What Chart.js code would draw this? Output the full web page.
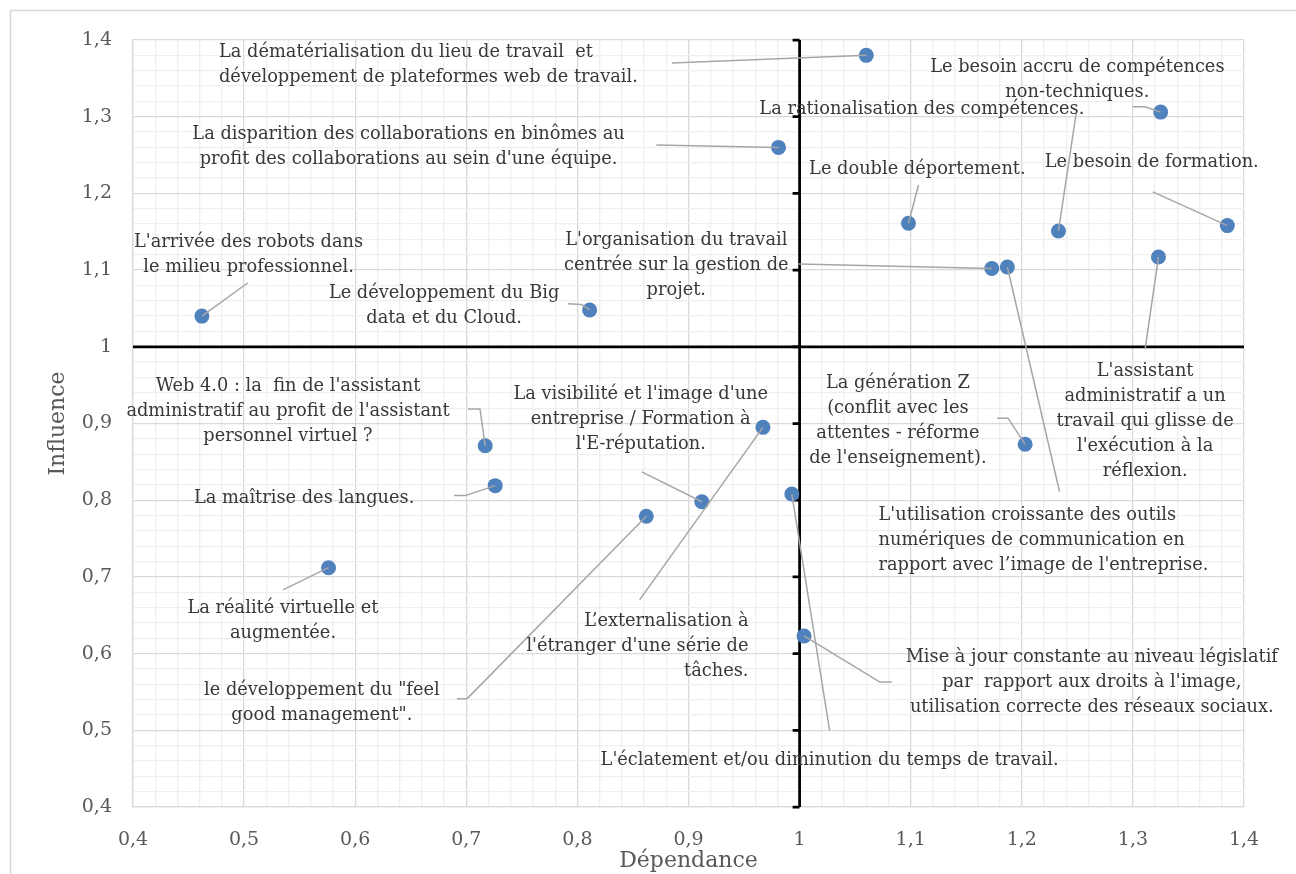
<!DOCTYPE html>
<html><head><meta charset="utf-8">
<script src="https://cdn.jsdelivr.net/npm/chart.js@4.4.1/dist/chart.umd.min.js"></script>
<style>html,body{margin:0;padding:0;background:#fff;overflow:hidden}canvas{display:block}</style>
</head><body>
<canvas id="c" width="1296" height="874"></canvas>
<script>
// ---- data ----
const itemTexts = [
  ["La dématérialisation du lieu de travail  et", "développement de plateformes web de travail."],
  ["La disparition des collaborations en binômes au", "profit des collaborations au sein d'une équipe."],
  ["Le besoin accru de compétences", "non-techniques."],
  ["La rationalisation des compétences."],
  ["Le double déportement."],
  ["Le besoin de formation."],
  ["L'organisation du travail", "centrée sur la gestion de", "projet."],
  ["L'utilisation croissante des outils", "numériques de communication en", "rapport avec l\u2019image de l'entreprise."],
  ["L'assistant", "administratif a un", "travail qui glisse de", "l'exécution à la", "réflexion."],
  ["L'arrivée des robots dans", "le milieu professionnel."],
  ["Le développement du Big", "data et du Cloud."],
  ["Web 4.0 : la  fin de l'assistant", "administratif au profit de l'assistant", "personnel virtuel ?"],
  ["La maîtrise des langues."],
  ["La visibilité et l'image d'une", "entreprise / Formation à", "l'E-réputation."],
  ["L\u2019externalisation à", "l'étranger d'une série de", "tâches."],
  ["le développement du \"feel", "good management\"."],
  ["L'éclatement et/ou diminution du temps de travail."],
  ["Mise à jour constante au niveau législatif", "par  rapport aux droits à l'image,", "utilisation correcte des réseaux sociaux."],
  ["La génération Z", "(conflit avec les", "attentes - réforme", "de l'enseignement)."],
  ["La réalité virtuelle et", "augmentée."]
];
const dependance = [1.060, 0.981, 1.325, 1.233, 1.098, 1.385, 1.173, 1.187, 1.323, 0.462,
                    0.811, 0.717, 0.726, 0.912, 0.967, 0.862, 0.993, 1.004, 1.203, 0.576];
const influence  = [1.380, 1.260, 1.306, 1.151, 1.161, 1.158, 1.102, 1.104, 1.117, 1.040,
                    1.048, 0.871, 0.819, 0.798, 0.895, 0.779, 0.808, 0.623, 0.873, 0.712];
const axisMin = 0.4, axisMax = 1.4, majorStep = 0.1, minorStep = 0.02, crossAt = 1;
const xTitle = "Dépendance", yTitle = "Influence";

// ---- label placement (in data units), kept apart from the data ----
const labelX = [0.4774, 0.648, 1.250, 1.110, 1.106, 1.317, 0.889, 1.071, 1.311, 0.504,
                0.680, 0.5395, 0.554, 0.857, 0.954, 0.570, 1.027, 1.263, 1.0885, 0.535];
const labelY = [1.368, 1.260, 1.348, 1.309, 1.231, 1.240, 1.106, 0.748, 0.903, 1.120,
                1.0535, 0.916, 0.803, 0.905, 0.609, 0.536, 0.461, 0.562, 0.904, 0.643];
const labelAlign = ['left','center','center','center','center','center','center','left','center','center',
                    'center','center','center','center','right','center','center','center','center','center'];
const leaderPath = [
  [[0.885,1.370]], [[0.871,1.263]], [[1.300,1.313],[1.311,1.313]], [[1.249,1.305]], [[1.107,1.211]],
  [[1.318,1.202]], [[0.999,1.108]], [[1.234,0.811]], [[1.311,0.997]], [[0.5035,1.0835]],
  [[0.7915,1.056],[0.804,1.055]], [[0.7015,0.919],[0.7123,0.919]], [[0.689,0.806],[0.699,0.806]],
  [[0.858,0.837]], [[0.856,0.670]], [[0.6916,0.541],[0.7006,0.541]], [[1.027,0.500]],
  [[1.083,0.563],[1.072,0.563]], [[1.1777,0.907],[1.1875,0.907]], [[0.535,0.683]]
];

const FONT = "'DejaVu Serif', serif";
const isMajor = v => Math.abs(v / majorStep - Math.round(v / majorStep)) < 1e-6;
const fmt = v => isMajor(v) ? (Math.abs(v - 1) < 1e-9 ? '1' : (Math.round(v * 10) / 10).toFixed(1).replace('.', ',')) : '';
const majorValues = [];
for (let k = 0; k <= Math.round((axisMax - axisMin) / majorStep); k++) majorValues.push(Math.round((axisMin + k * majorStep) * 10) / 10);

const overlay = {
  id: 'overlay',
  beforeDraw(chart) {
    const ctx = chart.ctx;
    ctx.save();
    ctx.fillStyle = '#fff';
    ctx.fillRect(0, 0, chart.width, chart.height);
    ctx.strokeStyle = '#D9D9D9';
    ctx.lineWidth = 1.5;
    ctx.strokeRect(10.5, 10.5, chart.width + 100, chart.height + 100);
    ctx.restore();
  },
  beforeDatasetsDraw(chart) {
    const ctx = chart.ctx, xs = chart.scales.x, ys = chart.scales.y;
    const px = xs.getPixelForValue(crossAt), py = ys.getPixelForValue(crossAt);
    ctx.save();
    ctx.strokeStyle = '#000';
    ctx.lineWidth = 2.75;
    ctx.beginPath();
    ctx.moveTo(px, ys.getPixelForValue(axisMax)); ctx.lineTo(px, ys.getPixelForValue(axisMin));
    ctx.moveTo(xs.getPixelForValue(axisMin), py); ctx.lineTo(xs.getPixelForValue(axisMax), py);
    ctx.stroke();
    ctx.beginPath();
    majorValues.forEach(v => { const y = ys.getPixelForValue(v); ctx.moveTo(px - 7, y); ctx.lineTo(px, y); });
    ctx.stroke();
    ctx.restore();
  },
  afterDatasetsDraw(chart) {
    const ctx = chart.ctx, xs = chart.scales.x, ys = chart.scales.y;
    ctx.save();
    ctx.strokeStyle = '#A6A6A6';
    ctx.lineWidth = 1.5;
    ctx.lineJoin = 'round';
    leaderPath.forEach((path, i) => {
      ctx.beginPath();
      path.forEach((p, k) => {
        const x = xs.getPixelForValue(p[0]), y = ys.getPixelForValue(p[1]);
        if (k === 0) ctx.moveTo(x, y); else ctx.lineTo(x, y);
      });
      ctx.lineTo(xs.getPixelForValue(dependance[i]), ys.getPixelForValue(influence[i]));
      ctx.stroke();
    });
    ctx.fillStyle = '#383838';
    ctx.font = '17.8px ' + FONT;
    ctx.textBaseline = 'middle';
    const lh = 25;
    itemTexts.forEach((lines, i) => {
      const x = xs.getPixelForValue(labelX[i]);
      const cy = ys.getPixelForValue(labelY[i]);
      const y0 = cy - (lines.length - 1) * lh / 2;
      ctx.textAlign = labelAlign[i];
      lines.forEach((t, k) => ctx.fillText(t, x, y0 + k * lh));
    });
    ctx.restore();
  }
};

const gridColor = c => isMajor(c.tick.value) ? '#D9D9D9' : '#EFEFEF';

new Chart(document.getElementById('c'), {
  type: 'scatter',
  data: {
    datasets: [{
      data: dependance.map((x, i) => ({x, y: influence[i]})),
      pointRadius: 7.5,
      pointHoverRadius: 7.5,
      pointBackgroundColor: '#4F81BD',
      pointBorderWidth: 0,
      showLine: false
    }]
  },
  options: {
    responsive: false,
    devicePixelRatio: 1,
    animation: false,
    events: [],
    layout: {padding: {left: 0, top: 40, right: 52, bottom: 0}},
    plugins: {legend: {display: false}, tooltip: {enabled: false}},
    scales: {
      x: {
        type: 'linear', min: axisMin, max: axisMax,
        afterFit: s => { s.height = 67; },
        ticks: {stepSize: minorStep, autoSkip: false, maxRotation: 0, minRotation: 0, padding: 22,
                color: '#595959', font: {family: FONT, size: 19}, callback: fmt},
        grid: {color: gridColor, lineWidth: 1.3, drawTicks: false},
        border: {display: true, color: '#D9D9D9', width: 1.3},
        title: {display: true, text: xTitle, color: '#595959', font: {family: FONT, size: 22}, padding: {top: 0, bottom: 0}}
      },
      y: {
        type: 'linear', min: axisMin, max: axisMax,
        afterFit: s => { s.width = 133; },
        ticks: {stepSize: minorStep, autoSkip: false, padding: 21,
                color: '#595959', font: {family: FONT, size: 19}, callback: fmt},
        grid: {color: gridColor, lineWidth: 1.3, drawTicks: false},
        border: {display: true, color: '#D9D9D9', width: 1.3},
        title: {display: true, text: yTitle, color: '#595959', font: {family: FONT, size: 22}, padding: {top: 45, bottom: 0}}
      }
    }
  },
  plugins: [overlay]
});
</script>
</body></html>
